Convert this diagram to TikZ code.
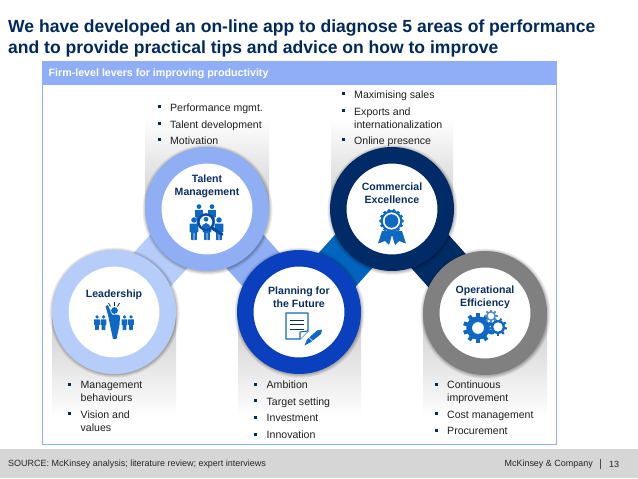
\documentclass[tikz,border=0pt]{standalone}
\usepackage{fontspec}
\setmainfont{Liberation Sans}
\pgfdeclarelayer{bg}\pgfdeclarelayer{mid}\pgfsetlayers{bg,mid,main}
\definecolor{titleblue}{HTML}{002A5C}
\definecolor{labelblue}{HTML}{0A2F66}
\definecolor{headblue}{HTML}{8FAEF7}
\definecolor{ringL}{HTML}{B7CDF9}
\definecolor{ringT}{HTML}{8FAEF4}
\definecolor{ringP}{HTML}{0A3FBE}
\definecolor{ringC}{HTML}{002B66}
\definecolor{ringO}{HTML}{808080}
\definecolor{linkPC}{HTML}{0065BD}
\definecolor{linkCO}{HTML}{002C66}
\definecolor{iconblue}{HTML}{0F69C4}
\definecolor{icondark}{HTML}{0A4A9E}
\definecolor{footgray}{HTML}{D6D6D6}
\definecolor{colgray}{HTML}{CFCFCF}
\tikzset{
  ringnode/.style={circle,draw=#1,line width=16.5bp,fill=white,minimum size=107.5bp,inner sep=0pt},
  linkband/.style={draw=#1,line width=50bp},
  lvl/.style={font=\fontsize{10.6}{13}\selectfont\bfseries,text=labelblue,align=center,inner sep=0pt},
  itemtext/.style={font=\fontsize{10.6}{13}\selectfont,text=black!88,align=left,anchor=north west,inner sep=0pt},
  itemdot/.style={fill=titleblue,minimum size=3bp,inner sep=0pt},
}
\newcommand{\blt}[4]{% name, bullet x, y, text
  \node[itemdot] (b#1) at (#2,#3) {};
  \node[itemtext] (t#1) at (#2+11,#3-4.7) {#4};
}
\newcommand{\st}{\strut}
\newcommand{\manfig}[3]{% x, top y, height
  \begin{scope}[shift={(#1,#2)},x=#3bp,y=-#3bp]
    \fill (0,.13) circle (.12);
    \fill[rounded corners=.4bp] (-.19,.29) -- (.19,.29) -- (.19,.66) -- (.13,.66) -- (.12,1) -- (.015,1) -- (.015,.68) -- (-.015,.68) -- (-.015,1) -- (-.12,1) -- (-.13,.66) -- (-.19,.66) -- cycle;
  \end{scope}
}
\newcommand{\gearicon}[6]{% x,y,outer,hole,teeth,tooth width
  \begin{scope}[shift={(#1,#2)}]
    \fill[even odd rule] (0,0) circle ({#3*0.78}) (0,0) circle (#4);
    \foreach \k in {1,...,#5}{
      \fill[rotate={360*\k/#5}] (-#6/2,{#3*0.7}) rectangle (#6/2,#3);
    }
  \end{scope}
}
\begin{document}
\begin{tikzpicture}[x=1bp,y=-1bp]
\useasboundingbox (0,0) rectangle (638,479);

% rings
\node[ringnode=ringL] (leader) at (114,312) {};
\node[ringnode=ringT] (talent) at (207,209) {};
\node[ringnode=ringP] (plan) at (299,312) {};
\node[ringnode=ringC] (comm) at (392,209) {};
\node[ringnode=ringO] (oper) at (485,313) {};

\begin{pgfonlayer}{bg}
  \fill[white] (0,0) rectangle (638,479);
  \draw[ringT,line width=.8bp] (42.4,80) -- (42.4,444) -- (556.6,444) -- (556.6,80);
  \shade[top color=white,bottom color=colgray] (145,118) rectangle (269,209);
  \shade[top color=white,bottom color=colgray] (331,118) rectangle (453,209);
  \shade[top color=colgray,bottom color=white] (52,318) rectangle (176,418);
  \shade[top color=colgray,bottom color=white] (238,318) rectangle (361,418);
  \shade[top color=colgray,bottom color=white] (423,318) rectangle (547,418);
  \draw[linkband=ringL] (leader.center) -- (talent.center);
  \draw[linkband=ringT] (talent.center) -- (plan.center);
  \draw[linkband=linkPC] (plan.center) -- (comm.center);
  \draw[linkband=linkCO] (comm.center) -- (oper.center);
\end{pgfonlayer}
\begin{pgfonlayer}{mid}
  \foreach \c in {leader,talent,plan,comm,oper}{
    \foreach \r in {65,64,63,62.5}{
      \fill[black,opacity=.07] ([shift={(.5,.7)}]\c.center) circle (\r);
    }
  }
\end{pgfonlayer}

% header and footer
\fill[headblue] (42,61) rectangle (557,85);
\node[anchor=west,inner sep=0pt,text=white,font=\fontsize{10.7}{13}\selectfont\bfseries] (head) at (48.5,73.5) {Firm-level levers for improving productivity};
\fill[footgray] (0,449) rectangle (638,478);
\node[anchor=west,inner sep=0pt,text=black!85,font=\fontsize{9}{11}\selectfont] (src) at (8,464) {SOURCE: McKinsey analysis; literature review; expert interviews};
\node[anchor=east,inner sep=0pt,text=black!85,font=\fontsize{9}{11}\selectfont] (firm) at (593,464) {McKinsey \& Company};
\node[anchor=west,inner sep=0pt,text=black!85,font=\fontsize{9}{11}\selectfont] (pg) at (609,464) {13};
\draw[black!70,line width=.7bp] (600,459) -- (600,469);

% title
\node[anchor=base west,inner sep=0pt,text=titleblue,font=\fontsize{17.6}{20}\selectfont\bfseries] (t1) at (8,33) {We have developed an on-line app to diagnose 5 areas of performance};
\node[anchor=base west,inner sep=0pt,text=titleblue,font=\fontsize{17.6}{20}\selectfont\bfseries] (t2) at (8,54) {and to provide practical tips and advice on how to improve};

% ring labels
\node[lvl] (ltal) at (207,186.5) {Talent\\Management};
\node[lvl] (lcom) at (392,193.3) {Commercial\\Excellence};
\node[lvl] (llea) at (114,294.5) {Leadership};
\node[lvl] (lpla) at (299,297.5) {Planning for\\the Future};
\node[lvl] (lope) at (485,297) {Operational\\Efficiency};

% lists
\blt{a1}{159}{107}{\st Performance mgmt.}
\blt{a2}{159}{124}{\st Talent development}
\blt{a3}{159}{140}{\st Motivation}
\blt{b1}{343}{94}{\st Maximising sales}
\blt{b2}{343}{110.5}{\st Exports and\\\st internationalization}
\blt{b3}{343}{140}{\st Online presence}
\blt{c1}{69.5}{384}{\st Management\\\st behaviours}
\blt{c2}{69.5}{413.5}{\st Vision and\\\st values}
\blt{d1}{255.5}{384}{\st Ambition}
\blt{d2}{255.5}{400.5}{\st Target setting}
\blt{d3}{255.5}{417}{\st Investment}
\blt{d4}{255.5}{434}{\st Innovation}
\blt{e1}{436}{384}{\st Continuous\\\st improvement}
\blt{e2}{436}{413.5}{\st Cost management}
\blt{e3}{436}{430}{\st Procurement}

% talent icon
\begin{scope}[iconblue]
  \manfig{199}{204}{20}
  \manfig{212}{204}{20}
  \manfig{194}{217}{23}
  \manfig{207}{217}{23}
  \manfig{219}{217}{23}
\end{scope}
\fill[white] (206,222) circle (8);
\draw[icondark,line width=2.4bp] (206,222) circle (7.6);
\draw[icondark,line width=3bp,line cap=round] (212,228) -- (222,234.5);
\begin{scope}
  \clip (206,222) circle (6.4);
  \fill[iconblue] (206,219.3) circle (2.4);
  \fill[iconblue] (201.5,229) arc (180:360:4.5 and 6) -- cycle;
\end{scope}

% leadership icon
\begin{scope}[iconblue]
  \manfig{97}{315}{15}
  \manfig{103.5}{315}{15}
  \manfig{124.5}{315}{15}
  \manfig{131}{315}{15}
  \fill (114.5,310.5) circle (3.4);
  \fill[rounded corners=.5bp] (105.5,306) -- (108,305) -- (112,314.5) -- (118,314.5) -- (120,316) -- (119.5,325) -- (116.5,339) -- (113,339) -- (110,325) -- (108.5,317) -- cycle;
\end{scope}
\draw[labelblue,line width=.8bp] (114,302) -- (114,306);
\draw[labelblue,line width=.8bp] (108.5,303) -- (110.5,306.5);
\draw[labelblue,line width=.8bp] (119.5,303) -- (117.5,306.5);

% planning icon
\draw[iconblue,line width=1.3bp,line join=round,fill=white] (286,313) -- (308,313) -- (308,331) -- (300,339) -- (286,339) -- cycle;
\draw[iconblue,line width=1.1bp,fill=white,line join=round] (300,339) -- (300,332) -- (308,331);
\foreach \yy in {320,324.5,329}{\draw[labelblue,line width=1bp] (290,\yy) -- (304,\yy);}
\fill[iconblue] (304.5,345.5) -- (307,339.5) -- (317,330.5) -- (322,329.5) -- (321,334) -- (311,342) -- cycle;
\draw[white,line width=.7bp] (309,337.5) -- (312.5,341);

% commercial icon
\begin{scope}[iconblue]
  \fill (382,231) -- (378,243.5) -- (385,241) -- (389,245) -- (392,235) -- (395,245) -- (399,241) -- (406,243.5) -- (402,231) -- cycle;
  \foreach \k in {1,...,14}{\fill ({391.5+10.8*cos(\k*360/14)},{221+10.8*sin(\k*360/14)}) circle (1.8);}
  \fill (391.5,221) circle (10.8);
  \fill[white] (391.5,221) circle (8.6);
  \fill (391.5,221) circle (6.8);
\end{scope}

% operational icon
\begin{scope}[iconblue]
  \gearicon{478}{328}{15}{6}{10}{4}
  \gearicon{498}{327}{9}{4.8}{9}{2.2}
\end{scope}
\begin{scope}[iconblue!75]
  \gearicon{491}{316}{6.5}{3.4}{8}{1.8}
\end{scope}
\end{tikzpicture}
\end{document}
